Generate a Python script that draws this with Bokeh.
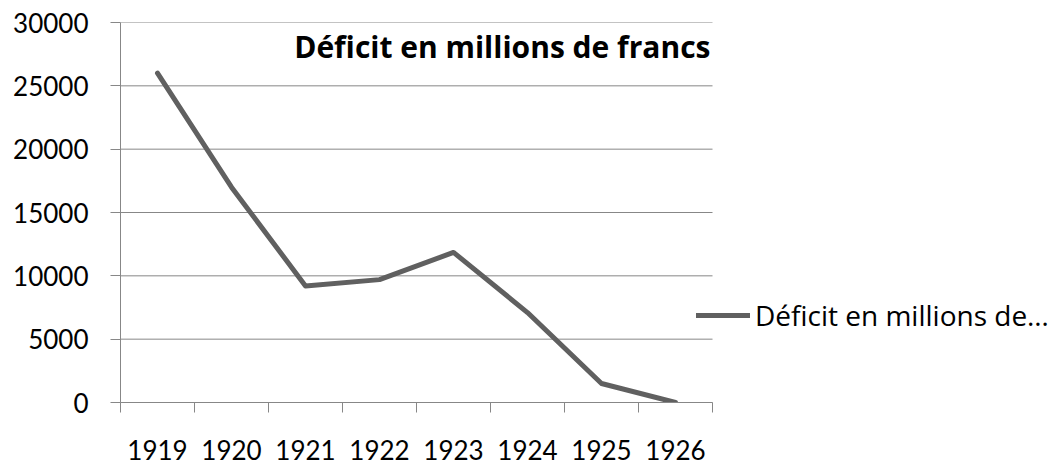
from bokeh.plotting import figure
from bokeh.models import (Range1d, FixedTicker, Label, Legend, LegendItem, ColumnDataSource)
from bokeh.embed import file_html
from bokeh.resources import INLINE

years = ["1919", "1920", "1921", "1922", "1923", "1924", "1925", "1926"]
deficit = [26000, 17000, 9200, 9700, 11850, 7100, 1500, 0]
y_ticks = [0, 5000, 10000, 15000, 20000, 25000, 30000]
series_name = "Déficit en millions de francs"
legend_label = "Déficit en millions de…"

FONT = "Lato"
TFONT = "Open Sans"
GRID = "#878787"
LINE = "#606060"

W, H = 1050, 466
LEFT, TOP, PLOT_RIGHT, BOTTOM = 120, 22, 712, 402
n = len(years)
# the frame extends to the right edge so that the legend (which overlaps the
# plot's right border) is not clipped; the x range is scaled accordingly
x_end = n * (W - LEFT) / (PLOT_RIGHT - LEFT)

xpos = [i + 0.5 for i in range(n)]
src = ColumnDataSource(dict(x=xpos, y=deficit, year=years))
grid_src = ColumnDataSource(dict(x0=[0] * len(y_ticks), x1=[n] * len(y_ticks), y=y_ticks))

p = figure(width=W, height=H, output_backend="svg", toolbar_location=None,
           x_range=Range1d(0, x_end), y_range=Range1d(0, 30000),
           min_border_left=LEFT, min_border_top=TOP, min_border_right=0,
           min_border_bottom=H - BOTTOM)
p.outline_line_color = None
p.background_fill_color = "white"
p.border_fill_color = "white"

p.segment(x0="x0", x1="x1", y0="y", y1="y", source=grid_src,
          line_color=GRID, line_width=1)

r = p.line("x", "y", source=src, line_color=LINE, line_width=5,
           line_join="round", line_cap="round")

# y axis
p.yaxis.ticker = FixedTicker(ticks=y_ticks)
p.yaxis.axis_line_color = GRID
p.yaxis.major_tick_line_color = GRID
p.yaxis.major_tick_out = 10
p.yaxis.major_tick_in = 0
p.yaxis.minor_tick_line_color = None
p.yaxis.major_label_text_font = FONT
p.yaxis.major_label_text_font_size = "26px"
p.yaxis.major_label_text_color = "black"
p.yaxis.major_label_standoff = 22

# x axis: labels at category centres, tick marks at boundaries
p.xaxis.ticker = FixedTicker(ticks=xpos, minor_ticks=list(range(n + 1)))
p.xaxis.bounds = (0, n)
p.xaxis.major_label_overrides = {x: y for x, y in zip(xpos, years)}
p.xaxis.axis_line_color = GRID
p.xaxis.major_tick_line_color = None
p.xaxis.minor_tick_line_color = GRID
p.xaxis.minor_tick_out = 10
p.xaxis.minor_tick_in = 0
p.xaxis.major_tick_out = 10
p.xaxis.major_label_text_font = FONT
p.xaxis.major_label_text_font_size = "26px"
p.xaxis.major_label_text_color = "black"
p.xaxis.major_label_standoff = 27

p.xgrid.grid_line_color = None
p.ygrid.grid_line_color = None

title = Label(x=PLOT_RIGHT - LEFT - 2, y=BOTTOM - 46, x_units="screen", y_units="screen",
              text=series_name, text_font=TFONT, text_font_style="bold",
              text_font_size="30px", text_align="right", text_baseline="alphabetic",
              text_color="black")
p.add_layout(title)

legend = Legend(items=[LegendItem(label=legend_label, renderers=[r])],
                location=(576, 68), padding=0, margin=0, spacing=0,
                glyph_width=54, glyph_height=20, label_standoff=5,
                label_text_font=TFONT, label_text_font_size="28px",
                label_text_color="black", border_line_color=None,
                background_fill_alpha=0)
p.add_layout(legend, "center")

open("out.html", "w").write(file_html(p, INLINE))
